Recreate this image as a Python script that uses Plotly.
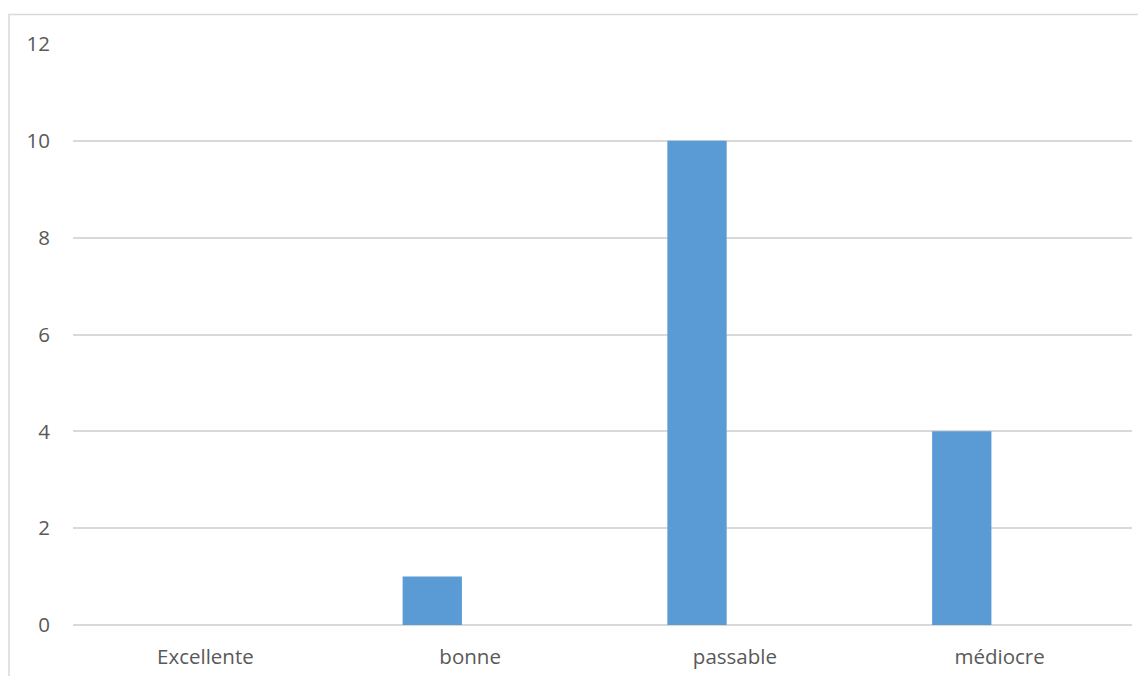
import plotly.graph_objects as go

categories = ["Excellente", "bonne", "passable", "médiocre"]
values = [0, 1, 10, 4]
y_ticks = [0, 2, 4, 6, 8, 10, 12]

fig = go.Figure()
fig.add_trace(go.Bar(
    x=categories, y=values,
    marker=dict(color="#5B9BD5", line=dict(width=0)),
    width=0.224, offset=-0.255,
    showlegend=False,
))

fig.update_layout(
    width=1138, height=668,
    margin=dict(l=65, r=14, t=35.5, b=51),
    paper_bgcolor="white", plot_bgcolor="white",
    font=dict(family="Open Sans", size=20, color="#595959"),
    xaxis=dict(showgrid=False, showline=False, zeroline=False, ticks="", automargin=False,
               ticklabelstandoff=17, tickfont=dict(size=20.5, color="#595959")),
    yaxis=dict(range=[0, 12], tickvals=y_ticks, showgrid=True, gridcolor="#d9d9d9",
               gridwidth=1.5, zeroline=True, zerolinecolor="#d9d9d9", zerolinewidth=1.5,
               showline=False, ticks="", ticklabelstandoff=22, automargin=False,
               tickfont=dict(size=20.5, color="#595959")),
    shapes=[dict(type="rect", xref="paper", yref="paper",
                 x0=(9 - 73) / 1059, x1=1.03, y0=-0.2, y1=1 + 29.5 / 581.5,
                 line=dict(color="#d9d9d9", width=1.5), fillcolor="rgba(0,0,0,0)", layer="below")],
)

fig.write_html("out.html")
